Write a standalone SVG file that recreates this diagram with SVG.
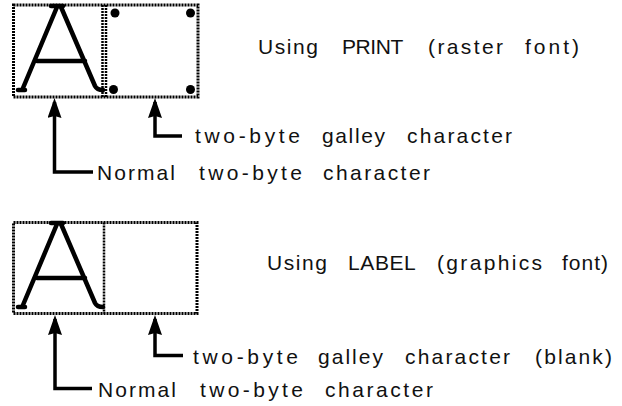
<svg xmlns="http://www.w3.org/2000/svg" width="622" height="406" viewBox="0 0 622 406">
  <style>
    .box { fill: none; stroke: #000; stroke-width: 3; stroke-dasharray: 2 1; }
    .div { fill: none; stroke: #000; stroke-width: 2.5; stroke-dasharray: 2 1; }
    .glyph { fill: none; stroke: #000; stroke-width: 4.5; stroke-linecap: round; stroke-linejoin: round; }
    .conn { fill: none; stroke: #000; stroke-width: 3.5; }
    .dot { fill: #000; }
    .lbl { font-family: "Liberation Sans", Arial, sans-serif; font-size: 21px; fill: #111; }
  </style>
  <defs>
    <marker id="arrow" viewBox="0 0 20 14" refX="16" refY="7" markerWidth="20" markerHeight="14" markerUnits="userSpaceOnUse" orient="auto-start-reverse">
      <path d="M0,0 L20,7 L0,14 L2,7 z" fill="#000"/>
    </marker>
    <g id="glyphA">
      <path class="glyph" d="M57,7 L23,88"/>
      <path class="glyph" d="M18,90 L25,90" stroke-width="5"/>
      <path class="glyph" d="M61,7 L95,86 Q97,90 103,90"/>
      <path class="glyph" d="M51,6 H63"/>
      <path class="glyph" d="M37,61 H85"/>
    </g>
  </defs>

  <g id="box-print">
    <rect class="box" x="13.5" y="5" width="184.5" height="92"/>
    <line class="div" x1="102.5" y1="5" x2="102.5" y2="97"/>
    <line class="div" x1="106" y1="5" x2="106" y2="97"/>
    <use href="#glyphA"/>
    <circle class="dot" cx="115" cy="13" r="4.5"/>
    <circle class="dot" cx="190.5" cy="13" r="4.5"/>
    <circle class="dot" cx="113.5" cy="89.5" r="4.5"/>
    <circle class="dot" cx="190.5" cy="89.5" r="4.5"/>
  </g>

  <g id="box-label">
    <rect class="box" x="13.5" y="222.5" width="183.5" height="91"/>
    <line class="div" x1="104" y1="222.5" x2="104" y2="313.5"/>
    <use href="#glyphA" transform="translate(0,217)"/>
  </g>

  <g id="connectors">
    <path class="conn" d="M54.5,102 V172 H93" marker-start="url(#arrow)"/>
    <path class="conn" d="M155,102 V136 H182" marker-start="url(#arrow)"/>
    <path class="conn" d="M55,319 V388.5 H92" marker-start="url(#arrow)"/>
    <path class="conn" d="M155,319 V355.5 H183" marker-start="url(#arrow)"/>
  </g>

  <g id="title-print">
    <text class="lbl" y="54"><tspan x="258" textLength="60" lengthAdjust="spacing">Using</tspan> <tspan x="342" textLength="61" lengthAdjust="spacing">PRINT</tspan> <tspan x="428" textLength="75" lengthAdjust="spacing">(raster</tspan> <tspan x="525" textLength="54" lengthAdjust="spacing">font)</tspan></text>
  </g>
  <g id="label-galley-1">
    <text class="lbl" y="143"><tspan x="195" textLength="105" lengthAdjust="spacing">two-byte</tspan> <tspan x="322" textLength="63" lengthAdjust="spacing">galley</tspan> <tspan x="407" textLength="105" lengthAdjust="spacing">character</tspan></text>
  </g>
  <g id="label-normal-1">
    <text class="lbl" y="180"><tspan x="97" textLength="78" lengthAdjust="spacing">Normal</tspan> <tspan x="199" textLength="103" lengthAdjust="spacing">two-byte</tspan> <tspan x="323" textLength="107" lengthAdjust="spacing">character</tspan></text>
  </g>

  <g id="title-label">
    <text class="lbl" y="270"><tspan x="267" textLength="60" lengthAdjust="spacing">Using</tspan> <tspan x="348" textLength="67" lengthAdjust="spacing">LABEL</tspan> <tspan x="437" textLength="105" lengthAdjust="spacing">(graphics</tspan> <tspan x="562" textLength="46" lengthAdjust="spacing">font)</tspan></text>
  </g>
  <g id="label-galley-2">
    <text class="lbl" y="364"><tspan x="193" textLength="105" lengthAdjust="spacing">two-byte</tspan> <tspan x="318" textLength="65" lengthAdjust="spacing">galley</tspan> <tspan x="405" textLength="105" lengthAdjust="spacing">character</tspan> <tspan x="535" textLength="77" lengthAdjust="spacing">(blank)</tspan></text>
  </g>
  <g id="label-normal-2">
    <text class="lbl" y="397"><tspan x="98" textLength="78" lengthAdjust="spacing">Normal</tspan> <tspan x="200" textLength="103" lengthAdjust="spacing">two-byte</tspan> <tspan x="325" textLength="108" lengthAdjust="spacing">character</tspan></text>
  </g>
</svg>
